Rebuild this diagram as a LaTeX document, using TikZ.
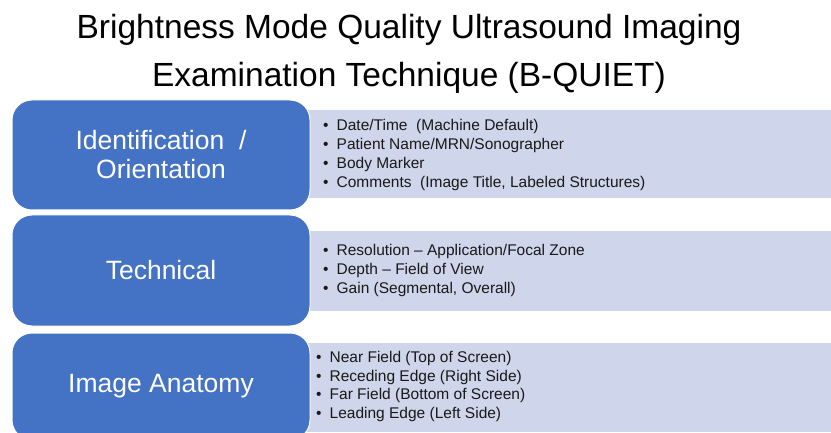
\documentclass[tikz,border=0pt]{standalone}
\usepackage{fontspec}
\setmainfont{Liberation Sans}
\usetikzlibrary{positioning}
\definecolor{boxblue}{HTML}{4472C4}
\definecolor{listgray}{HTML}{CFD5EA}
\newcommand{\itm}{\makebox[13.5pt][l]{•}}
\tikzset{
  titletext/.style={align=center,font=\fontsize{33.5}{48}\selectfont,text=black},
  headbox/.style={fill=boxblue,draw=white,line width=1pt,rounded corners=20pt,
    minimum width=298pt,text=white,align=center,font=\fontsize{26.5}{29}\selectfont},
  listbg/.style={fill=listgray,minimum width=540pt,anchor=west,inner sep=0pt},
  listtext/.style={align=left,inner sep=0pt,text=black!90,font=\fontsize{15.5}{18.8}\selectfont}
}
\begin{document}
\begin{tikzpicture}[x=1pt,y=-1pt]
  \useasboundingbox (0,0) rectangle (831,433);
  \clip (0,0) rectangle (831,433);
  \fill[white] (0,0) rectangle (831,433);
  % title
  \node[titletext] (title) at (409,54) {Brightness Mode Quality Ultrasound Imaging\\Examination Technique (B-QUIET)};
  % light boxes behind
  \node[listbg,minimum height=88pt] (identbg) at (300,154) {};
  \node[listbg,minimum height=80pt] (techbg) at (300,271) {};
  \node[listbg,minimum height=89pt] (anatbg) at (300,387.5) {};
  % blue boxes
  \node[headbox,minimum height=110pt] (ident) at (161,155) {Identification \ /\\Orientation};
  \node[headbox,minimum height=111pt] (tech) at (161,270.5) {Technical};
  \node[headbox,minimum height=107pt] (anat) at (161,386.5) {Image Anatomy};
  % lists
  \node[listtext,right=12.5pt of ident] (identlist) {\itm Date/Time \ (Machine Default)\\
    \itm Patient Name/MRN/Sonographer\\
    \itm Body Marker\\
    \itm Comments \ (Image Title, Labeled Structures)};
  \node[listtext,right=12.5pt of tech] (techlist) {\itm Resolution – Application/Focal Zone\\
    \itm Depth – Field of View\\
    \itm Gain (Segmental, Overall)};
  \node[listtext,right=5.5pt of anat] (anatlist) {\itm Near Field (Top of Screen)\\
    \itm Receding Edge (Right Side)\\
    \itm Far Field (Bottom of Screen)\\
    \itm Leading Edge (Left Side)};
\end{tikzpicture}
\end{document}
